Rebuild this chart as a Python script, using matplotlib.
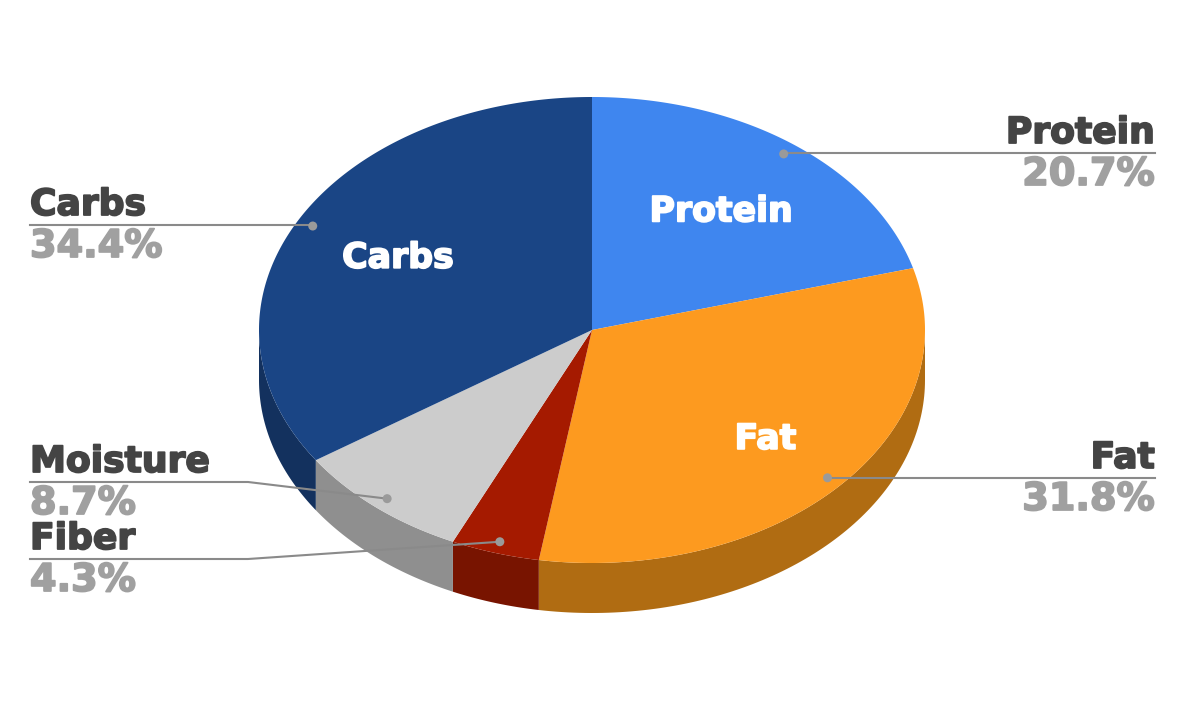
import numpy as np
import matplotlib.pyplot as plt
import matplotlib.patheffects as pe
from matplotlib.patches import Polygon, Circle

# data
labels = ['Protein', 'Fat', 'Fiber', 'Moisture', 'Carbs']
values = [20.7, 31.8, 4.3, 8.7, 34.4]
top_colors = ['#3f86ef', '#fd9a1f', '#a51a00', '#cccccc', '#1a4585']
side_colors = ['#2c5ea7', '#b06c12', '#781400', '#8f8f8f', '#13315e']

# pie geometry (pixel coords)
cx, cy = 592, 330
rx, ry = 333, 233
depth = 50

W, H = 1184, 718
fig = plt.figure(figsize=(W / 100, H / 100), dpi=100)
ax = fig.add_axes([0, 0, 1, 1])
ax.set_xlim(0, W)
ax.set_ylim(H, 0)
ax.axis('off')


def pt(theta, r=1.0):
    # theta in degrees, clockwise from 12 o'clock
    t = np.radians(theta)
    return cx + r * rx * np.sin(t), cy - r * ry * np.cos(t)


def heavy(c):
    # DejaVu bold is a bit lighter than the reference font, thicken it
    return [pe.withStroke(linewidth=1.3, foreground=c)]


fracs = np.array(values) / np.sum(values)
ends = np.cumsum(fracs) * 360
starts = ends - fracs * 360

# sides (only front half, 90..270 deg)
for s, e, c in zip(starts, ends, side_colors):
    a0, a1 = max(s, 90), min(e, 270)
    if a1 <= a0:
        continue
    th = np.linspace(a0, a1, 100)
    xs, ys = pt(th)
    poly = np.vstack([np.c_[xs, ys], np.c_[xs[::-1], ys[::-1] + depth]])
    ax.add_patch(Polygon(poly, closed=True, facecolor=c, edgecolor='none'))

# top wedges
for s, e, c in zip(starts, ends, top_colors):
    th = np.linspace(s, e, 200)
    xs, ys = pt(th)
    poly = np.vstack([[cx, cy], np.c_[xs, ys]])
    ax.add_patch(Polygon(poly, closed=True, facecolor=c, edgecolor='none'))

# inner labels for big slices
inner_r = {'Protein': 0.64, 'Fat': 0.70, 'Carbs': 0.66}
for lab, s, e in zip(labels, starts, ends):
    if lab not in inner_r:
        continue
    x, y = pt((s + e) / 2, inner_r[lab])
    ax.text(x, y, lab, color='white', fontsize=25, fontweight='bold',
            ha='center', va='center', family='DejaVu Sans',
            path_effects=heavy('white'))

# outer labels with leader lines
name_col = '#444444'
pct_col = '#a0a0a0'
line_col = '#8a8a8a'
left_x, right_x = 30, 1155
elbow_x = 248
line_y = {'Protein': 153, 'Fat': 478, 'Fiber': 559, 'Moisture': 482, 'Carbs': 225}

for lab, s, e, f in zip(labels, starts, ends, fracs):
    mid = (s + e) / 2
    dx, dy = pt(mid, 0.95)
    ly = line_y[lab]
    if mid < 180:
        ax.plot([dx, right_x], [ly, ly], color=line_col, lw=1.5)
        tx, ha = right_x, 'right'
    else:
        if abs(dy - ly) > 3:
            ax.plot([left_x, elbow_x, dx], [ly, ly, dy], color=line_col, lw=1.5)
        else:
            ax.plot([left_x, dx], [ly, ly], color=line_col, lw=1.5)
        tx, ha = left_x, 'left'
    ax.add_patch(Circle((dx, dy), 4.5, facecolor='#9a9a9a', edgecolor='none', zorder=5))
    ax.text(tx, ly - 10, lab, color=name_col, fontsize=26, fontweight='bold',
            ha=ha, va='baseline', family='DejaVu Sans', path_effects=heavy(name_col))
    ax.text(tx, ly + 32, f'{f * 100:.1f}%', color=pct_col, fontsize=27.5,
            fontweight='bold', ha=ha, va='baseline', family='DejaVu Sans',
            path_effects=heavy(pct_col))

fig.savefig('out.png', dpi=100, facecolor='white')
